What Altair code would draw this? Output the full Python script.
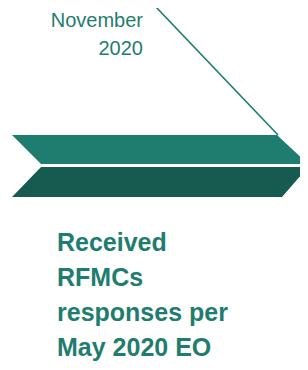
import altair as alt
import pandas as pd

# Screen-pixel coordinate system of the graphic (x right, y down)
upper_x = [12, 41, 277, 308]
upper_top = [135, 135, 135, 164]
upper_bot = [135, 164, 164, 164]

lower_x = [12, 41, 282, 308]
lower_top = [197, 167, 167, 167]
lower_bot = [197, 197, 197, 167]

line_x = [155, 278]
line_y = [6, 135]

date_lines = ["November", "2020"]
date_y = [26.5, 55]
date_x = [143, 143]

title_lines = ["Received", "RFMCs", "responses per", "May 2020 EO"]
title_y = [251, 286, 321, 356]
title_x = [57, 57, 57, 57]

TEAL = "#1f7d70"
DARK = "#175a50"

xs = alt.Scale(domain=[8, 300], nice=False, zero=False)
ys = alt.Scale(domain=[8, 362], nice=False, zero=False, reverse=True)

up = pd.DataFrame({"x": upper_x, "y": upper_top, "y2": upper_bot})
lo = pd.DataFrame({"x": lower_x, "y": lower_top, "y2": lower_bot})
ln = pd.DataFrame({"x": [line_x[0]], "y": [line_y[0]], "x2": [line_x[1]], "y2": [line_y[1]]})
dt = pd.DataFrame({"t": date_lines, "x": date_x, "y": date_y})
tt = pd.DataFrame({"t": title_lines, "x": title_x, "y": title_y})

upper = alt.Chart(up).mark_area(color=TEAL, interpolate="linear").encode(
    x=alt.X("x:Q", scale=xs, axis=None),
    y=alt.Y("y:Q", scale=ys, axis=None),
    y2="y2:Q",
)
lower = alt.Chart(lo).mark_area(color=DARK, interpolate="linear").encode(
    x=alt.X("x:Q", scale=xs, axis=None),
    y=alt.Y("y:Q", scale=ys, axis=None),
    y2="y2:Q",
)
rule = alt.Chart(ln).mark_rule(color=TEAL, strokeWidth=1.6).encode(
    x=alt.X("x:Q", scale=xs, axis=None),
    y=alt.Y("y:Q", scale=ys, axis=None),
    x2="x2:Q",
    y2="y2:Q",
)
date_txt = alt.Chart(dt).mark_text(
    align="right", baseline="alphabetic", font="Liberation Sans",
    fontSize=20, color=TEAL,
).encode(
    x=alt.X("x:Q", scale=xs, axis=None),
    y=alt.Y("y:Q", scale=ys, axis=None),
    text="t:N",
)
title_txt = alt.Chart(tt).mark_text(
    align="left", baseline="alphabetic", font="Liberation Sans",
    fontSize=25, fontWeight="bold", color=TEAL,
).encode(
    x=alt.X("x:Q", scale=xs, axis=None),
    y=alt.Y("y:Q", scale=ys, axis=None),
    text="t:N",
)

chart = alt.layer(upper, lower, rule, date_txt, title_txt).properties(
    width=292, height=354, padding=0,
    autosize=alt.AutoSizeParams(type="none"),
).configure_view(stroke=None)

chart.save("out.html", embed_options={"renderer": "svg", "actions": False})
